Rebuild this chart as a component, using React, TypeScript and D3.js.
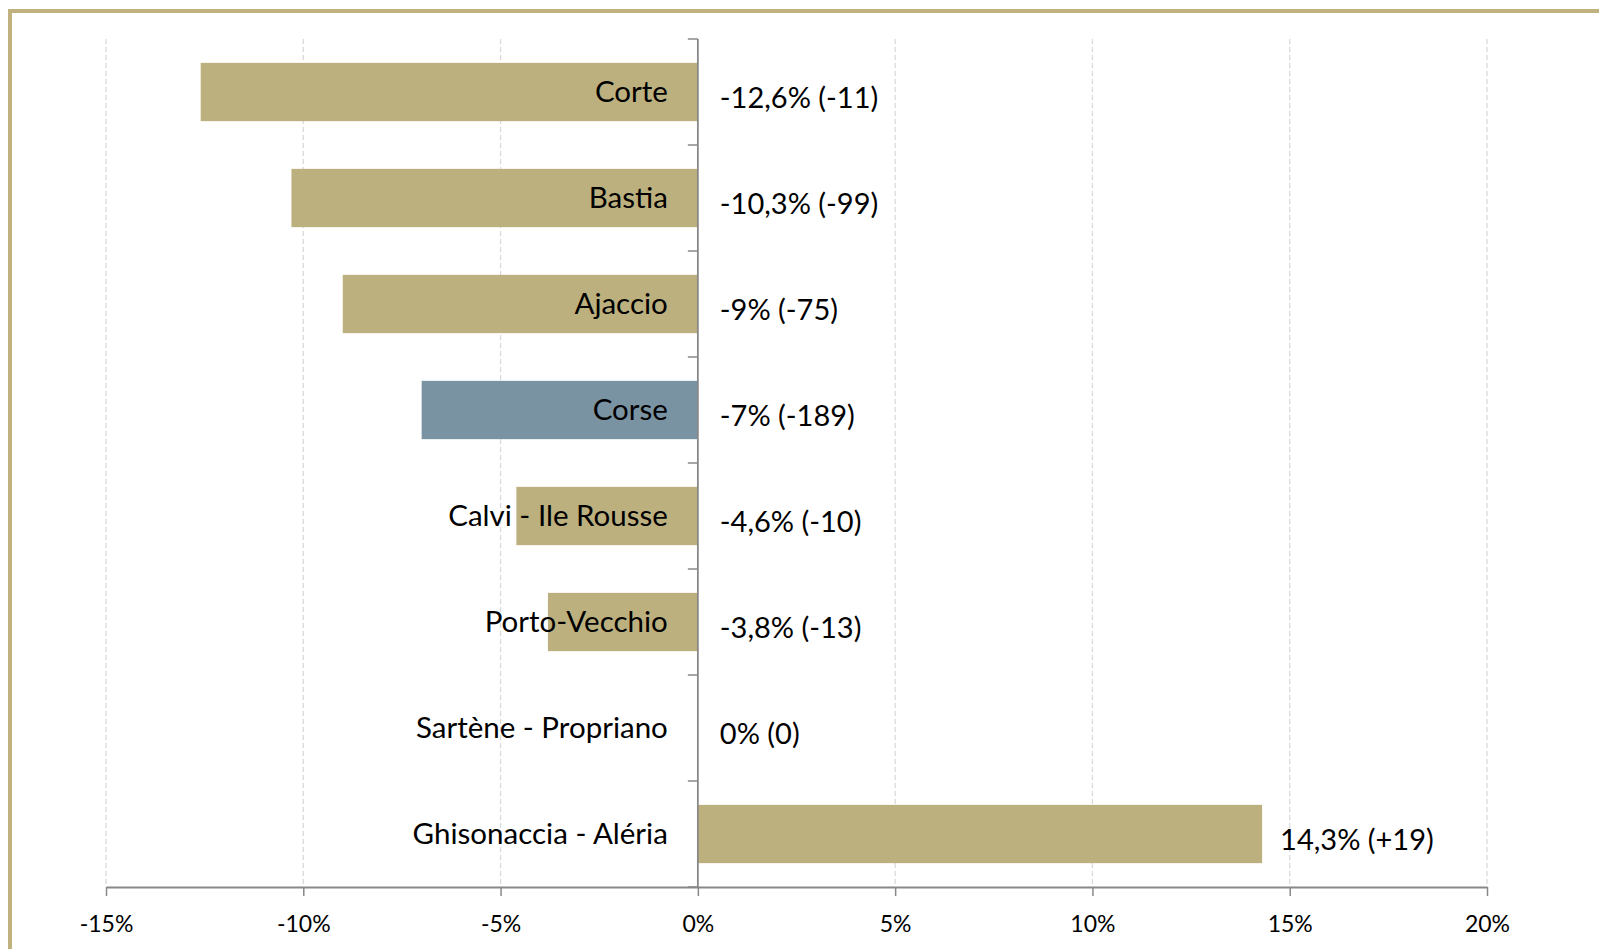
import { useEffect, useRef } from 'react'
import * as d3 from 'd3'

// Données
const categories = [
  'Corte',
  'Bastia',
  'Ajaccio',
  'Corse',
  'Calvi - Ile Rousse',
  'Porto-Vecchio',
  'Sartène - Propriano',
  'Ghisonaccia - Aléria',
]
const evolutions = [-12.6, -10.3, -9, -7, -4.6, -3.8, 0, 14.3]
const effectifs = [-11, -99, -75, -189, -10, -13, 0, 19]
const xTicks = [-15, -10, -5, 0, 5, 10, 15, 20]

const GOLD = '#bdb07f'
const BLUE = '#7a93a2'

function App() {
  const svgRef = useRef<SVGSVGElement>(null)

  useEffect(() => {
    const width = 1599
    const height = 949
    const svg = d3.select(svgRef.current)
    svg.selectAll('*').remove()
    svg.attr('width', width).attr('height', height)

    // Cadre
    svg.append('rect')
      .attr('x', 10)
      .attr('y', 11)
      .attr('width', width + 20)
      .attr('height', height + 20)
      .attr('fill', '#ffffff')
      .attr('stroke', '#bfb27f')
      .attr('stroke-width', 4)

    const xScale = d3.scaleLinear().domain([-15, 20]).range([106, 1487])
    const yScale = d3.scaleBand<string>()
      .domain(categories)
      .range([39, 887])
      .paddingInner(0.45)
      .paddingOuter(0.225)

    const [y0, y1] = yScale.range()
    const x0 = xScale(0)
    const font = 'Lato, "Open Sans", sans-serif'

    // Grille verticale
    svg.append('g')
      .selectAll('line')
      .data(xTicks.filter(d => d !== 0))
      .enter()
      .append('line')
      .attr('x1', d => xScale(d))
      .attr('x2', d => xScale(d))
      .attr('y1', y0)
      .attr('y2', y1)
      .attr('stroke', '#d9d9d9')
      .attr('stroke-width', 1.3)
      .attr('stroke-dasharray', '5,3')

    // Barres
    svg.append('g')
      .selectAll('rect')
      .data(categories)
      .enter()
      .append('rect')
      .attr('x', (d, i) => xScale(Math.min(0, evolutions[i])))
      .attr('y', d => yScale(d)!)
      .attr('width', (d, i) => Math.abs(xScale(evolutions[i]) - x0))
      .attr('height', yScale.bandwidth())
      .attr('fill', d => (d === 'Corse' ? BLUE : GOLD))

    // Axe X
    const xAxis = svg.append('g')
      .attr('transform', `translate(0,${y1})`)
      .call(d3.axisBottom(xScale)
        .tickValues(xTicks)
        .tickSize(9)
        .tickSizeOuter(0)
        .tickFormat(d => `${d}%`))
    xAxis.select('.domain').attr('stroke', '#888888').attr('stroke-width', 1.8)
    xAxis.selectAll('.tick line').attr('stroke', '#888888').attr('stroke-width', 1.5)
    xAxis.selectAll('.tick text')
      .attr('y', 29)
      .attr('dy', '0.71em')
      .attr('fill', '#000')
      .style('font-family', font)
      .style('font-size', '23px')

    // Axe Y (au zéro)
    const bornes = categories.map(c => yScale(c)! - yScale.step() * 0.225).concat([y1])
    const yAxis = svg.append('g')
    yAxis.append('line')
      .attr('x1', x0).attr('x2', x0)
      .attr('y1', y0).attr('y2', y1)
      .attr('stroke', '#888888')
      .attr('stroke-width', 1.8)
    yAxis.selectAll('.ytick')
      .data(bornes)
      .enter()
      .append('line')
      .attr('class', 'ytick')
      .attr('x1', x0 - 10).attr('x2', x0)
      .attr('y1', d => d).attr('y2', d => d)
      .attr('stroke', '#888888')
      .attr('stroke-width', 1.5)

    // Libellés des catégories
    svg.append('g')
      .selectAll('text')
      .data(categories)
      .enter()
      .append('text')
      .attr('x', x0 - 30)
      .attr('y', d => yScale(d)! + yScale.bandwidth() / 2)
      .attr('dy', '0.35em')
      .attr('text-anchor', 'end')
      .style('font-family', font)
      .style('font-size', '29.5px')
      .attr('fill', '#000')
      .text(d => d)

    // Valeurs
    const fmtPct = (v: number) => `${String(v).replace('.', ',')}%`
    const fmtNb = (n: number) => (n > 0 ? `+${n}` : `${n}`)
    svg.append('g')
      .selectAll('text')
      .data(categories)
      .enter()
      .append('text')
      .attr('x', (d, i) => xScale(Math.max(0, evolutions[i])) + (evolutions[i] > 0 ? 18 : 22))
      .attr('y', d => yScale(d)! + yScale.bandwidth() / 2 + 6)
      .attr('dy', '0.35em')
      .style('font-family', font)
      .style('font-size', '29px')
      .attr('fill', '#000')
      .text((d, i) => `${fmtPct(evolutions[i])} (${fmtNb(effectifs[i])})`)
  }, [])

  return (
    <div style={{ position: 'absolute', left: 0, top: 0, width: 1599, height: 949, overflow: 'hidden', background: '#fff' }}>
      <svg ref={svgRef} style={{ display: 'block' }}></svg>
    </div>
  )
}

export default App
